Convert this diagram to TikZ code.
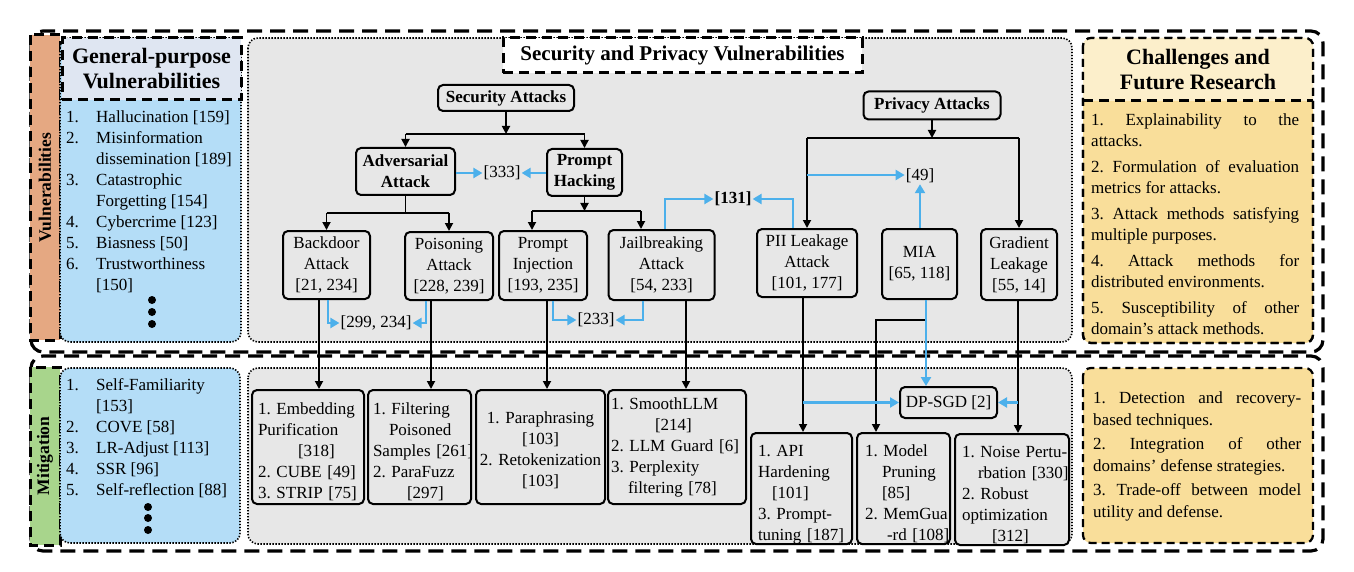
\documentclass[tikz,border=0pt]{standalone}
\usepackage{fontspec}
\setmainfont{Liberation Serif}
\usetikzlibrary{arrows.meta,calc}
\definecolor{orangebar}{HTML}{E5A882}
\definecolor{greenbar}{HTML}{A8D58C}
\definecolor{lightblue}{HTML}{B4DDF7}
\definecolor{hdrblue}{HTML}{DFE6F2}
\definecolor{panelgray}{HTML}{E7E7E7}
\definecolor{ybody}{HTML}{F9DE9A}
\definecolor{yhead}{HTML}{FCEFCB}
\definecolor{arrowblue}{HTML}{4CB0EB}
\newcommand\numbx[1]{\makebox[30pt][l]{#1}}
\frenchspacing
\hyphenpenalty=10000
\exhyphenpenalty=10000
\begin{document}
\begin{tikzpicture}[x=1pt,y=-1pt,
 font=\fontsize{17}{21}\selectfont,
 frame/.style={line width=3.2pt, dash pattern=on 15pt off 8pt, rounded corners=12pt},
 barbox/.style={draw, line width=3pt, dash pattern=on 10pt off 6pt, inner sep=0pt, font=\fontsize{17.5}{21}\selectfont\bfseries},
 dotbox/.style={line width=1.6pt, dash pattern=on 1.4pt off 1.6pt, rounded corners=10pt},
 ybox/.style={line width=2.2pt, dash pattern=on 8pt off 5pt, rounded corners=8pt},
 hdr/.style={draw, line width=3pt, dash pattern=on 10pt off 6pt, align=center, inner sep=0pt, font=\fontsize{22}{25}\selectfont\bfseries},
 box/.style={draw, line width=2pt, rounded corners=5pt, fill=panelgray, inner sep=2pt, align=center},
 bbox/.style={box, font=\fontsize{17}{21}\selectfont\bfseries},
 mbox/.style={draw, line width=2pt, rounded corners=5pt, fill=panelgray, inner xsep=2pt, inner ysep=0pt, align=left},
 mboxc/.style={mbox, align=center},
 refl/.style={inner sep=1pt},
 listtxt/.style={anchor=north west, inner sep=0pt, align=left},
 ln/.style={line width=1.8pt},
 arr/.style={line width=1.8pt, -{Triangle[length=8pt,width=8pt]}},
 barr/.style={line width=2.6pt, color=arrowblue, -{Triangle[length=9pt,width=10pt]}},
]
\useasboundingbox (0,0) rectangle (1354,572);

% ---------- outer frames ----------
\draw[frame] (31,31) rectangle (1323,352);
\draw[frame] (31,356) rectangle (1323,551);

% ---------- left column ----------
\node[barbox, fill=orangebar, rotate=90, minimum width=305pt, minimum height=30pt] (vbar) at (45,187.5) {Vulnerabilities};
\draw[dotbox, fill=lightblue] (60,38) rectangle (241,342);
\node[hdr, fill=hdrblue, minimum width=179pt, minimum height=62pt] (gphead) at (151.5,69) {General-purpose\\Vulnerabilities};
\node[listtxt] (gplist) at (66,110.5) {\numbx{1.}Hallucination [159]\\
\numbx{2.}Misinformation\\
\numbx{}dissemination [189]\\
\numbx{3.}Catastrophic\\
\numbx{}Forgetting [154]\\
\numbx{4.}Cybercrime [123]\\
\numbx{5.}Biasness [50]\\
\numbx{6.}Trustworthiness\\
\numbx{}[150]};
\fill (152,300) circle[radius=4pt];
\fill (152,312) circle[radius=4pt];
\fill (152,324) circle[radius=4pt];

\node[barbox, fill=greenbar, rotate=90, minimum width=178pt, minimum height=30pt] (mbar) at (45,456) {Mitigation};
\draw[dotbox, fill=lightblue] (60,368) rectangle (240,543);
\node[listtxt] (mitlist) at (66,378) {\numbx{1.}Self-Familiarity\\
\numbx{}[153]\\
\numbx{2.}COVE [58]\\
\numbx{3.}LR-Adjust [113]\\
\numbx{4.}SSR [96]\\
\numbx{5.}Self-reflection [88]};
\fill (148,507) circle[radius=4pt];
\fill (148,518) circle[radius=4pt];
\fill (148,530) circle[radius=4pt];

% ---------- right column ----------
\draw[ybox, fill=ybody] (1083,38) rectangle (1313,343);
\begin{scope}
\clip[rounded corners=8pt] (1083,38) rectangle (1313,343);
\fill[yhead] (1083,38) rectangle (1313,101);
\end{scope}
\draw[line width=3pt, dash pattern=on 10pt off 6pt] (1083,101) -- (1313,101);
\draw[ybox] (1083,38) rectangle (1313,343);
\node[align=center, inner sep=0pt, font=\fontsize{22}{25}\selectfont\bfseries] (chhead) at (1198,69.5) {Challenges and\\Future Research};
\node[listtxt] (chtext) at (1091,113.5) {\makebox[208pt][s]{1. Explainability to the}\\
attacks.\\[5pt]
\makebox[208pt][s]{2. Formulation of evaluation}\\
metrics for attacks.\\[5pt]
\makebox[208pt][s]{3. Attack methods satisfying}\\
multiple purposes.\\[5pt]
\makebox[208pt][s]{4. Attack methods for}\\
distributed environments.\\[5pt]
\makebox[208pt][s]{5. Susceptibility of other}\\
domain’s attack methods.};

\draw[ybox, fill=ybody] (1083,368) rectangle (1313,543);
\node[listtxt] (futtext) at (1093,392) {\makebox[208pt][s]{1. Detection and recovery-}\\
based techniques.\\[4pt]
\makebox[208pt][s]{2. Integration of other}\\
domains’ defense strategies.\\[4pt]
\makebox[208pt][s]{3. Trade-off between model}\\
utility and defense.};

% ---------- middle panels ----------
\draw[dotbox, fill=panelgray] (248,38) rectangle (1072,342);
\draw[dotbox, fill=panelgray] (248,368) rectangle (1072,544);
\node[draw, fill=white, line width=3pt, dash pattern=on 10pt off 6pt, minimum width=359pt, minimum height=35pt, inner sep=0pt, font=\fontsize{21}{24}\selectfont\bfseries] (title) at (682.5,55.5) {Security and Privacy Vulnerabilities};

% attack nodes
\node[bbox, minimum width=136pt, minimum height=26pt] (secatt) at (506,98) {Security Attacks};
\node[bbox, minimum width=99pt, minimum height=47pt] (adv) at (405.5,171.5) {Adversarial\\Attack};
\node[bbox, minimum width=75pt, minimum height=47pt, inner sep=1pt] (ph) at (584.5,172.5) {Prompt\\Hacking};
\node[box, minimum width=87pt, minimum height=68pt] (bd) at (326.5,265) {Backdoor\\Attack\\{}[21, 234]};
\node[box, minimum width=88pt, minimum height=68pt] (po) at (449,266) {Poisoning\\Attack\\{}[228, 239]};
\node[box, minimum width=88pt, minimum height=69pt] (pi) at (543,265.5) {Prompt\\Injection\\{}[193, 235]};
\node[box, minimum width=106pt, minimum height=70pt] (jb) at (661.5,265) {Jailbreaking\\Attack\\{}[54, 233]};
\node[bbox, minimum width=137pt, minimum height=28pt] (pa) at (932,105.5) {Privacy Attacks};
\node[box, minimum width=100pt, minimum height=68pt] (pii) at (807,263) {PII Leakage\\Attack\\{}[101, 177]};
\node[box, minimum width=75pt, minimum height=70pt] (mia) at (919.5,264) {MIA\\{}[65, 118]};
\node[box, minimum width=76pt, minimum height=71pt] (gl) at (1019,264.5) {Gradient\\Leakage\\{}[55, 14]};

\node[refl] (r333) at (502,173) {[333]};
\node[refl, font=\fontsize{17}{21}\selectfont\bfseries] (r131) at (733,199) {[131]};
\node[refl] (r49) at (920,176) {[49]};
\node[refl] (r299) at (376,323) {[299, 234]};
\node[refl] (r233) at (596,320) {[233]};

% mitigation nodes
\node[mbox, minimum width=112pt, minimum height=114pt, text width=100pt] (m1) at (308,447) {\rule{0pt}{22pt}\mbox{1. Embedding}\\Purification\\\hspace*{40pt}[318]\\\mbox{2. CUBE [49]}\\\mbox{3. STRIP [75]}};
\node[mbox, minimum width=103pt, minimum height=114pt, text width=93pt] (m2) at (419.5,447) {\rule{0pt}{22pt}\mbox{1. Filtering}\\\hspace*{16pt}Poisoned\\\mbox{Samples [261]}\\\mbox{2. ParaFuzz}\\\hspace*{34pt}[297]};
\node[mboxc, minimum width=129pt, minimum height=114pt, text width=125pt] (m3) at (540.5,447) {\rule{0pt}{18pt}\mbox{1. Paraphrasing}\\{}[103]\\\mbox{2. Retokenization}\\{}[103]};
\node[mbox, minimum width=138pt, minimum height=114pt, text width=132pt] (m4) at (677,447) {\mbox{1. SmoothLLM}\\\hspace*{44pt}[214]\\\mbox{2. LLM Guard [6]}\\\mbox{3. Perplexity}\\\hspace*{17pt}\mbox{filtering [78]}};
\node[box, minimum width=97pt, minimum height=31pt, inner sep=1pt] (dp) at (948.5,402.5) {DP-SGD [2]};
\node[mbox, minimum width=101pt, minimum height=111pt, text width=87pt] (m5) at (801.5,488.5) {\rule{0pt}{23pt}\mbox{1. API}\\Hardening\\\hspace*{14pt}[101]\\\mbox{3. Prompt-}\\\mbox{tuning [187]}};
\node[mbox, minimum width=93pt, minimum height=111pt, text width=77pt] (m6) at (903.5,488.5) {\rule{0pt}{23pt}\mbox{1. Model}\\\hspace*{17pt}Pruning\\\hspace*{17pt}[85]\\\mbox{2. MemGua}\\\hspace*{22pt}\mbox{-rd [108]}};
\node[mbox, minimum width=114pt, minimum height=111pt, text width=100pt] (m7) at (1012,489.5) {\rule{0pt}{23pt}\mbox{1. Noise Pertu-}\\\hspace*{16pt}\mbox{rbation [330]}\\\mbox{2. Robust}\\optimization\\\hspace*{30pt}[312]};

% ---------- connectors: security tree ----------
\coordinate (sj) at (506,134);
\draw[arr] (secatt.south) -- (sj);
\draw[ln] (adv.north |- sj) -- (ph.north |- sj);
\draw[arr] (adv.north |- sj) -- (adv.north);
\draw[arr] (ph.north |- sj) -- (ph.north);

\coordinate (aj) at (405.5,213);
\draw[ln] (adv.south) -- (aj);
\draw[ln] (bd.north |- aj) -- (po.north |- aj);
\draw[arr] (bd.north |- aj) -- (bd.north);
\draw[arr] (po.north |- aj) -- (po.north);

\coordinate (pj) at (584.5,211);
\coordinate (pjl) at (532,211);
\coordinate (pjr) at (641,211);
\draw[arr] (ph.south) -- (pj);
\draw[ln] (pjl) -- (pjr);
\draw[arr] (pjl) -- (pi.north -| pjl);
\draw[arr] (pjr) -- (jb.north -| pjr);

% privacy tree
\coordinate (rj) at (932,138);
\draw[arr] (pa.south) -- (rj);
\draw[ln] (pii.north |- rj) -- (gl.north |- rj);
\draw[arr] (pii.north |- rj) -- (pii.north);
\draw[arr] (gl.north |- rj) -- (gl.north);

% blue reference arrows
\draw[barr] (adv.east |- r333) -- (r333.west);
\draw[barr] (ph.west |- r333) -- (r333.east);
\draw[barr] ([xshift=1.5pt]bd.south) |- (r299.west);
\draw[barr] ([xshift=-23pt]po.south) |- (r299.east);
\draw[barr] ([xshift=10pt]pi.south) |- (r233.west);
\draw[barr] ([xshift=-18.5pt]jb.south) |- (r233.east);
\draw[barr] ([xshift=3.5pt]jb.north) |- (r131.west);
\draw[barr] ([xshift=-14pt]pii.north) |- (r131.east);
\coordinate (b49) at (807,175);
\draw[barr] (b49) -- (b49 -| r49.west);
\draw[barr] ([xshift=0.5pt]mia.north) -- (r49.south);

% ---------- connectors to mitigation ----------
\draw[arr] ([xshift=-7.5pt]bd.south) -- ([xshift=-7.5pt]bd.south |- m1.north);
\draw[arr] ([xshift=-18pt]po.south) -- ([xshift=-18pt]po.south |- m2.north);
\draw[arr] ([xshift=4pt]pi.south) -- ([xshift=4pt]pi.south |- m3.north);
\draw[arr] ([xshift=24.5pt]jb.south) -- ([xshift=24.5pt]jb.south |- m4.north);
\draw[arr] ([xshift=-4pt]pii.south) -- ([xshift=-4pt]pii.south |- m5.north);
\draw[arr] ([xshift=-1pt]gl.south) -- ([xshift=-1pt]gl.south |- m7.north);
\coordinate (mj) at (926,320);
\coordinate (mk) at (876,320);
\draw[arr] (mj) -- (mk) -- (mk |- m6.north);
\draw[barr] ([xshift=6.5pt]mia.south) -- ([xshift=6.5pt]mia.south |- dp.north);
\draw[barr] ([xshift=-4pt]pii.south |- dp.west) -- (dp.west);
\draw[barr] ([xshift=-1pt]gl.south |- dp.east) -- (dp.east);
\end{tikzpicture}
\end{document}
